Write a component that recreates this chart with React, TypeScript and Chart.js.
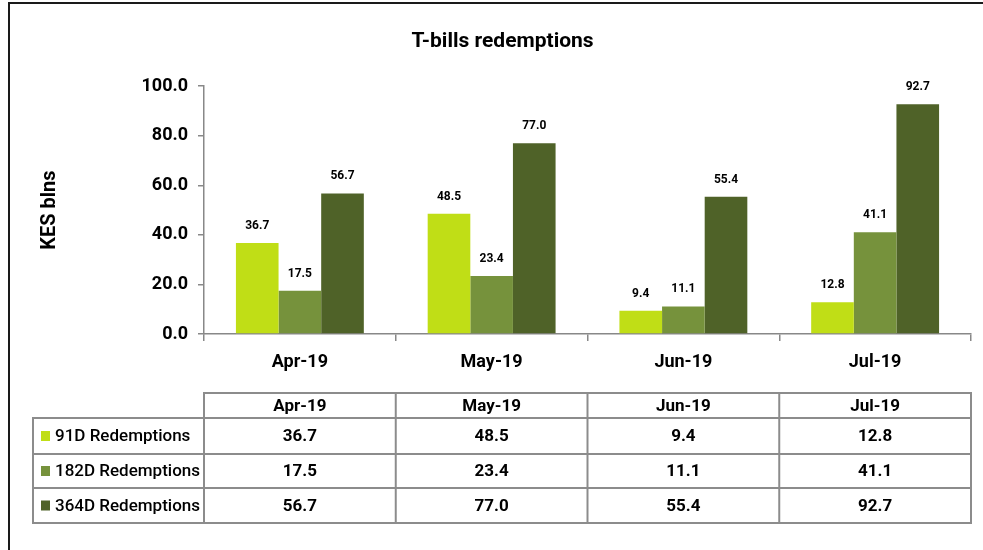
import React, { useEffect, useRef } from "react";
import { Chart, registerables } from "chart.js";

Chart.register(...registerables);

const categories = ["Apr-19", "May-19", "Jun-19", "Jul-19"];
const seriesNames = ["91D Redemptions", "182D Redemptions", "364D Redemptions"];
const redemptions91 = [36.7, 48.5, 9.4, 12.8];
const redemptions182 = [17.5, 23.4, 11.1, 41.1];
const redemptions364 = [56.7, 77.0, 55.4, 92.7];
const seriesColors = ["#C0DE16", "#76923C", "#4F6228"];
const yTicks = [0, 20, 40, 60, 80, 100];
const chartTitle = "T-bills redemptions";
const yTitle = "KES blns";

const FONT = "Roboto, 'Liberation Sans', sans-serif";

const tablePlugin = {
  id: "tableFrame",
  afterDraw(chart: any) {
    const ctx = chart.ctx as CanvasRenderingContext2D;
    const xs = chart.scales.x;
    ctx.save();
    // frame
    ctx.strokeStyle = "#1a1a1a";
    ctx.lineWidth = 2;
    ctx.beginPath();
    ctx.moveTo(9, 550);
    ctx.lineTo(9, 3);
    ctx.lineTo(983, 3);
    ctx.stroke();

    // data labels
    ctx.fillStyle = "#000";
    ctx.font = `bold 12px ${FONT}`;
    ctx.textAlign = "center";
    ctx.textBaseline = "middle";
    chart.data.datasets.forEach((ds: any, di: number) => {
      const meta = chart.getDatasetMeta(di);
      meta.data.forEach((bar: any, i: number) => {
        ctx.fillText(Number(ds.data[i]).toFixed(1), bar.x, bar.y - 17);
      });
    });

    // table
    const n = categories.length;
    const cw = (xs.right - xs.left) / n;
    const colX = [xs.left];
    for (let i = 1; i <= n; i++) colX.push(xs.left + cw * i);
    const legendLeft = 33;
    const rowY = [393, 418, 454, 488, 523];
    ctx.strokeStyle = "#8c8c8c";
    ctx.lineWidth = 2;
    ctx.strokeRect(colX[0], rowY[0], colX[n] - colX[0], rowY[1] - rowY[0]);
    for (let i = 1; i < n; i++) {
      ctx.beginPath();
      ctx.moveTo(colX[i], rowY[0]);
      ctx.lineTo(colX[i], rowY[4]);
      ctx.stroke();
    }
    ctx.strokeRect(legendLeft, rowY[1], colX[n] - legendLeft, rowY[4] - rowY[1]);
    for (let r = 2; r < 4; r++) {
      ctx.beginPath();
      ctx.moveTo(legendLeft, rowY[r]);
      ctx.lineTo(colX[n], rowY[r]);
      ctx.stroke();
    }
    ctx.beginPath();
    ctx.moveTo(colX[0], rowY[1]);
    ctx.lineTo(colX[0], rowY[4]);
    ctx.stroke();

    ctx.fillStyle = "#000";
    ctx.font = `bold 17px ${FONT}`;
    ctx.textAlign = "center";
    ctx.textBaseline = "middle";
    categories.forEach((c, i) => {
      ctx.fillText(c, (colX[i] + colX[i + 1]) / 2, (rowY[0] + rowY[1]) / 2 + 1);
    });
    chart.data.datasets.forEach((ds: any, di: number) => {
      const cy = (rowY[di + 1] + rowY[di + 2]) / 2 + 1;
      ctx.fillStyle = "#000";
      ctx.textAlign = "center";
      ctx.font = `bold 17px ${FONT}`;
      ds.data.forEach((v: number, i: number) => {
        ctx.fillText(Number(v).toFixed(1), (colX[i] + colX[i + 1]) / 2, cy);
      });
      ctx.fillStyle = ds.backgroundColor;
      ctx.fillRect(41, cy - 6, 9, 10);
      ctx.fillStyle = "#000";
      ctx.textAlign = "left";
      ctx.font = `500 17px ${FONT}`;
      ctx.fillText(ds.label, 55, cy);
    });
    ctx.restore();
  },
};

export default function App() {
  const ref = useRef<HTMLCanvasElement>(null);
  useEffect(() => {
    if (!ref.current) return;
    const seriesData = [redemptions91, redemptions182, redemptions364];
    const chart = new Chart(ref.current, {
      type: "bar",
      data: {
        labels: categories,
        datasets: seriesNames.map((name, i) => ({
          label: name,
          data: seriesData[i],
          backgroundColor: seriesColors[i],
          barPercentage: 1,
          categoryPercentage: 0.667,
        })),
      },
      options: {
        responsive: false,
        animation: false,
        devicePixelRatio: 1,
        layout: { padding: { left: 34, right: 12, top: 0, bottom: 0 } },
        plugins: {
          legend: { display: false },
          tooltip: { enabled: false },
          title: {
            display: true,
            text: chartTitle,
            color: "#000",
            font: { family: FONT, size: 21, weight: "bold" },
            padding: { top: 29, bottom: 32 },
          },
        },
        scales: {
          x: {
            offset: true,
            grid: { offset: true, drawOnChartArea: false, tickLength: 7, color: "#888", lineWidth: 1.5 },
            border: { color: "#888", width: 1.5 },
            ticks: { color: "#000", font: { family: FONT, size: 18, weight: "bold" }, padding: 11 },
            afterFit: (s: any) => {
              s.height = 216;
            },
          },
          y: {
            min: 0,
            max: 100,
            afterBuildTicks: (s: any) => {
              s.ticks = yTicks.map((v) => ({ value: v }));
            },
            grid: { drawOnChartArea: false, tickLength: 6, color: "#888", lineWidth: 1.5 },
            border: { color: "#888", width: 1.5 },
            ticks: {
              color: "#000",
              font: { family: FONT, size: 18, weight: "bold" },
              padding: 10,
              callback: (v: any) => Number(v).toFixed(1),
            },
            title: {
              display: true,
              text: yTitle,
              color: "#000",
              font: { family: FONT, size: 20, weight: "bold" },
              padding: { top: 4, bottom: 0 },
            },
            afterFit: (s: any) => {
              s.width = 170;
            },
          },
        },
      },
      plugins: [tablePlugin],
    } as any);
    return () => chart.destroy();
  }, []);
  return (
    <div style={{ position: "absolute", left: 0, top: 0, width: 983, height: 550, background: "#fff" }}>
      <canvas ref={ref} width={983} height={550} style={{ display: "block" }} />
    </div>
  );
}
